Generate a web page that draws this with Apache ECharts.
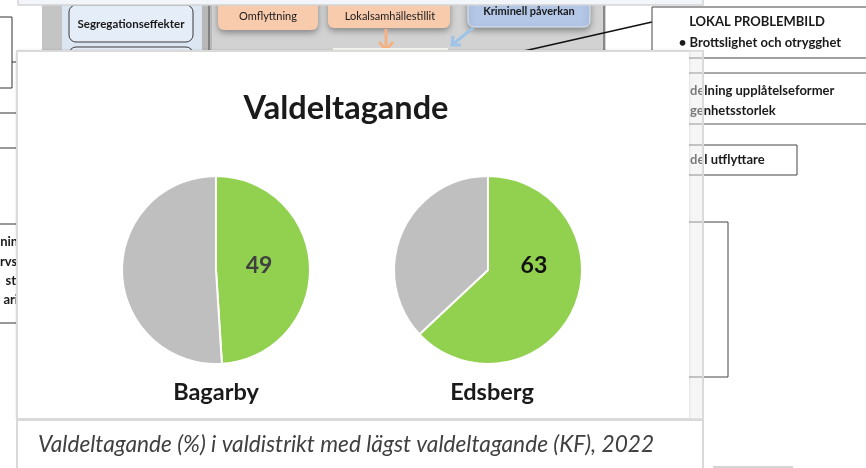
<!DOCTYPE html>
<html>
<head>
<meta charset="utf-8">
<script src="https://cdn.jsdelivr.net/npm/echarts@6/dist/echarts.min.js"></script>
<style>html,body{margin:0;padding:0;background:#fff}#c{width:866px;height:468px}</style>
</head>
<body>
<div id="c"></div>
<script>
const chartTitle = 'Valdeltagande';
const caption = 'Valdeltagande (%) i valdistrikt med lägst valdeltagande (KF), 2022';
const categories = ['Bagarby', 'Edsberg'];
const turnout = [49, 63];
const nonVoters = [51, 37];

const FONT = 'Lato, "Open Sans", sans-serif';
const centers = [[216, 270], [488, 270]];
const R = 94;
const GREEN = '#92D050', GREY = '#BFBFBF';

const chart = echarts.init(document.getElementById('c'), null, {renderer: 'canvas'});

function bgText(x, y, text, opt) {
  return Object.assign({type: 'text', x: x, y: y, z: 1,
    style: Object.assign({text: text, font: 'bold 12px ' + FONT, fill: '#1a1a1a', align: 'center', verticalAlign: 'middle'}, opt || {})});
}
function box(x, y, w, h, opt) {
  return Object.assign({type: 'rect', z: 1, shape: {x: x, y: y, width: w, height: h, r: (opt && opt.r) || 0},
    style: Object.assign({fill: 'none', stroke: '#333', lineWidth: 1}, (opt && opt.style) || {})});
}

const background = [
  // left-side boxes
  box(-5, 17, 17, 71),
  {type: 'line', z: 1, shape: {x1: 12, y1: 62, x2: 20, y2: 62}, style: {stroke: '#333', lineWidth: 1}},
  box(-5, 113, 23, 35),
  box(-5, 224, 23, 99),
  bgText(25, 242, 'ning', {align: 'right', font: 'bold 13px ' + FONT}),
  bgText(25, 262, 'rvsfi', {align: 'right', font: 'bold 13px ' + FONT}),
  bgText(16, 281, 'st', {align: 'right', font: 'bold 13px ' + FONT}),
  bgText(25, 300, 'arig', {align: 'right', font: 'bold 13px ' + FONT}),
  // slide diagram at the top
  box(42, -2, 564, 56, {style: {fill: '#d2d2d2', stroke: 'none'}}),
  box(42, -2, 20, 56, {style: {fill: '#c4c4c4', stroke: 'none'}}),
  box(62, -2, 140, 56, {style: {fill: '#dce6f2', stroke: 'none'}}),
  box(202, -2, 10, 56, {style: {fill: '#b8b8b8', stroke: 'none'}}),
  {type: 'line', z: 1, shape: {x1: 209, y1: 0, x2: 209, y2: 54}, style: {stroke: '#6f6f6f', lineWidth: 1.5}},
  {type: 'line', z: 1, shape: {x1: 604, y1: 0, x2: 604, y2: 54}, style: {stroke: '#6f6f6f', lineWidth: 1.5}},
  box(69, 5, 124, 37, {r: 7, style: {fill: '#e4edf8', stroke: '#3a3a3a', lineWidth: 1}}),
  bgText(131, 24, 'Segregationseffekter', {font: 'bold 11.5px ' + FONT}),
  box(69, 47, 124, 30, {r: 7, style: {fill: '#e4edf8', stroke: '#3a3a3a', lineWidth: 1}}),
  box(218, -12, 100, 42, {r: 6, style: {fill: '#f8cbad', stroke: 'none', shadowBlur: 6, shadowColor: 'rgba(0,0,0,0.35)', shadowOffsetY: 3}}),
  bgText(268, 16, 'Omflyttning', {font: '11px ' + FONT}),
  box(328, -12, 122, 40, {r: 6, style: {fill: '#f8cbad', stroke: 'none', shadowBlur: 6, shadowColor: 'rgba(0,0,0,0.35)', shadowOffsetY: 3}}),
  bgText(390, 16, 'Lokalsamhällestillit', {font: '11px ' + FONT}),
  box(468, -12, 122, 39, {r: 6, style: {fill: '#b4c7e7', stroke: '#dfe8f5', lineWidth: 1, shadowBlur: 6, shadowColor: 'rgba(0,0,0,0.35)', shadowOffsetY: 3}}),
  bgText(529, 11, 'Kriminell påverkan', {font: 'bold 11px ' + FONT}),
  {type: 'line', z: 1, shape: {x1: 386, y1: 29, x2: 386, y2: 50}, style: {stroke: '#f4b183', lineWidth: 3}},
  {type: 'polyline', z: 1, shape: {points: [[379, 42], [386, 50], [393, 42]]}, style: {stroke: '#f4b183', lineWidth: 3, fill: 'none'}},
  {type: 'line', z: 1, shape: {x1: 473, y1: 28, x2: 452, y2: 45}, style: {stroke: '#9dc3e6', lineWidth: 3}},
  {type: 'polyline', z: 1, shape: {points: [[453, 36], [452, 45], [461, 45]]}, style: {stroke: '#9dc3e6', lineWidth: 3, fill: 'none'}},
  box(333, 48, 115, 10, {style: {fill: '#f4f8ee', stroke: 'none'}}),
  {type: 'line', z: 1, shape: {x1: 515, y1: 53, x2: 652, y2: 22}, style: {stroke: '#111', lineWidth: 1.5}},
  // right-side boxes
  box(652, 7, 230, 51, {style: {fill: '#fff', stroke: '#444', lineWidth: 1}}),
  bgText(757, 22, 'LOKAL PROBLEMBILD', {font: 'bold 13px ' + FONT}),
  bgText(760, 43, '• Brottslighet och otrygghet', {font: 'bold 13px ' + FONT}),
  box(660, 73, 230, 51, {style: {fill: '#fff', stroke: '#555', lineWidth: 1}}),
  bgText(690, 91, 'delning upplåtelseformer', {align: 'left', font: 'bold 13px ' + FONT}),
  bgText(690, 111, 'genhetsstorlek', {align: 'left', font: 'bold 13px ' + FONT}),
  box(660, 145, 137, 30, {style: {fill: '#fff', stroke: '#444', lineWidth: 1}}),
  bgText(690, 160, 'del utflyttare', {align: 'left', font: 'bold 13px ' + FONT}),
  box(660, 222, 68, 155, {style: {fill: 'none', stroke: '#444', lineWidth: 1}}),
  {type: 'line', z: 1, shape: {x1: 713, y1: 467, x2: 793, y2: 467}, style: {stroke: '#aaa', lineWidth: 1}},
  // top strip of the overlay
  box(18, -6, 685, 11, {style: {fill: '#f2f6fa', stroke: '#d4d4d4', lineWidth: 1.5}}),
  // chart panel
  box(17, 51, 672, 368, {style: {fill: '#fff', stroke: 'none', shadowBlur: 3, shadowColor: 'rgba(0,0,0,0.25)'}}),
  box(17, 51, 686, 368, {style: {fill: 'none', stroke: '#dadada', lineWidth: 2}}),
  box(689, 51, 13, 368, {style: {fill: 'rgba(235,235,235,0.45)', stroke: 'none'}}),
  box(17, 420, 686, 60, {style: {fill: '#fff', stroke: '#d9d9d9', lineWidth: 2}})
];

const foreground = [
  {type: 'text', x: 346, y: 109, z: 10,
   style: {text: chartTitle, font: 'bold 32.5px ' + FONT, fill: '#1a1a1a', align: 'center', verticalAlign: 'middle'}},
  {type: 'text', x: 38, y: 445, z: 10,
   style: {text: caption, font: 'italic 22.7px ' + FONT, fill: '#404040', align: 'left', verticalAlign: 'middle'}}
].concat(categories.map(function (name, i) {
  return {type: 'text', x: centers[i][0] + (i ? 4 : 0), y: 392, z: 10,
          style: {text: name, font: 'bold 23.5px ' + FONT, fill: '#1a1a1a', align: 'center', verticalAlign: 'middle'}};
}));

const labelOffsets = [[-7, -3], [0, -24]];
const labelColors = ['#404040', '#111111'];

const series = categories.map(function (name, i) {
  return {
    type: 'pie', name: name, z: 5,
    center: centers[i], radius: [0, R],
    startAngle: 90, clockwise: true,
    avoidLabelOverlap: false, silent: true, animation: false,
    itemStyle: {borderColor: '#ffffff', borderWidth: 2},
    labelLine: {show: false},
    data: [
      {value: turnout[i], name: 'Valdeltagande', itemStyle: {color: GREEN},
       label: {show: true, position: 'inside', formatter: '{c}', fontFamily: FONT, fontWeight: 'bold',
               fontSize: 23, color: labelColors[i], offset: labelOffsets[i]}},
      {value: nonVoters[i], name: 'Övriga', itemStyle: {color: GREY}, label: {show: false}}
    ]
  };
});

chart.setOption({
  animation: false,
  backgroundColor: '#ffffff',
  graphic: {elements: background.concat(foreground)},
  series: series
});
</script>
</body>
</html>
